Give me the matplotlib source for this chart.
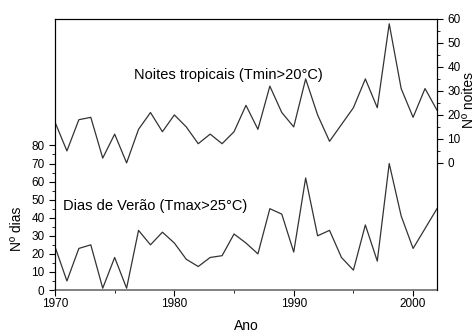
import numpy as np
import matplotlib
matplotlib.use("Agg")
import matplotlib.pyplot as plt
from matplotlib.ticker import FixedLocator

plt.rcParams['font.family'] = ['Liberation Sans', 'DejaVu Sans']

# dados
anos = np.arange(1970, 2003)
dias_verao = [24, 5, 23, 25, 1, 18, 1, 33, 25, 32, 26, 17, 13, 18, 19, 31, 26, 20,
              45, 42, 21, 62, 30, 33, 18, 11, 36, 16, 70, 41, 23, 34, 45]
noites_trop = [17, 5, 18, 19, 2, 12, 0, 14, 21, 13, 20, 15, 8, 12, 8, 13, 24, 14,
               32, 21, 15, 35, 20, 9, 16, 23, 35, 23, 58, 31, 19, 31, 22]

fig = plt.figure(figsize=(4.76, 3.32), dpi=100)
ax = fig.add_axes([0.1155, 0.1265, 0.8025, 0.8163])
ax.plot(anos, dias_verao, color="#333333", linewidth=0.9)
ax.set(xlim=[1970, 2002], ylim=[0, 150])
ax.xaxis.set_major_locator(FixedLocator([1970, 1980, 1990, 2000]))
ax.xaxis.set_minor_locator(FixedLocator([1975, 1985, 1995]))
ax.yaxis.set_major_locator(FixedLocator(np.arange(0, 81, 10)))
ax.yaxis.set_minor_locator(FixedLocator(np.arange(5, 80, 10)))
ax.tick_params(which="both", direction="out", labelsize=8.5, colors="black")
ax.tick_params(which="major", length=4)
ax.tick_params(which="minor", length=2.5)
ax.tick_params(axis="x", pad=2)
ax.spines["bottom"].set_color("#777777")
ax.spines["bottom"].set_linewidth(1.3)
ax.set_xlabel("Ano", fontsize=10, va="top")
ax.xaxis.set_label_coords(0.5, -0.108)
ax.set_ylabel("Nº dias", fontsize=10)
ax.yaxis.set_label_coords(-0.08, 0.225)

ax2 = ax.twinx()
ax2.plot(anos, noites_trop, color="#333333", linewidth=0.9)
ax2.set(ylim=[-53, 60])
ax2.yaxis.set_major_locator(FixedLocator(np.arange(0, 61, 10)))
ax2.yaxis.set_minor_locator(FixedLocator(np.arange(5, 60, 10)))
ax2.tick_params(which="both", direction="out", labelsize=8.5)
ax2.tick_params(which="major", length=4)
ax2.tick_params(which="minor", length=2.5)
ax2.spines["bottom"].set_visible(False)
ax2.set_ylabel("Nº noites", fontsize=10)
ax2.yaxis.set_label_coords(1.066, 0.70)

ax.text(0.455, 0.795, "Noites tropicais (Tmin>20°C)", transform=ax.transAxes,
        ha="center", va="center", fontsize=10.5)
ax.text(0.02, 0.31, "Dias de Verão (Tmax>25°C)", transform=ax.transAxes,
        ha="left", va="center", fontsize=10.5)

fig.savefig("out.png", dpi=100)
